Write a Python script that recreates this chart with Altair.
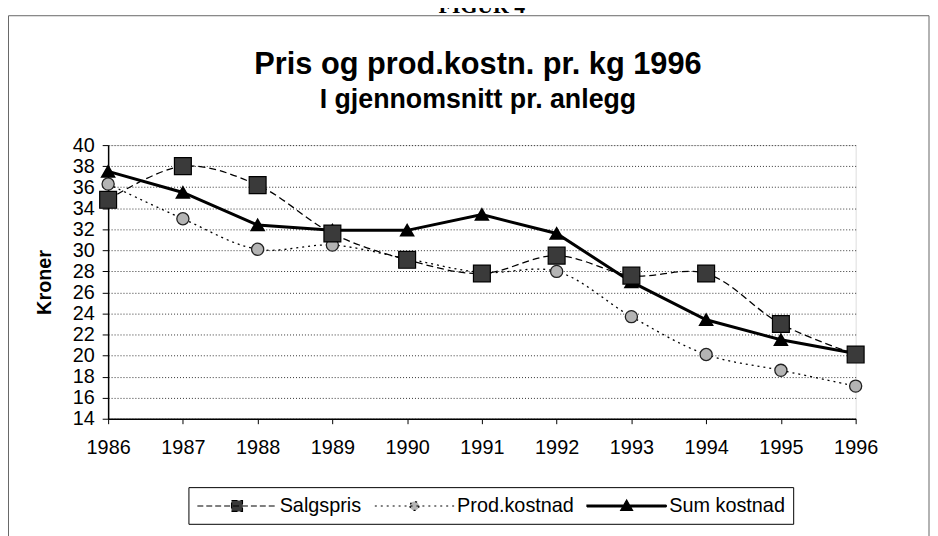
import altair as alt
import pandas as pd

years = list(range(1986, 1997))
salgspris = [34.8, 38.0, 36.2, 31.6, 29.1, 27.8, 29.5, 27.6, 27.8, 23.0, 20.1]
prodkostnad = [36.3, 33.0, 30.1, 30.5, 29.2, 27.9, 28.0, 23.7, 20.1, 18.6, 17.1]
sumkostnad = [37.5, 35.5, 32.4, 31.9, 31.9, 33.4, 31.6, 27.0, 23.4, 21.5, 20.2]
series_names = ["Salgspris", "Prod.kostnad", "Sum kostnad"]
y_ticks = list(range(14, 41, 2))

title_text = "Pris og prod.kostn. pr. kg 1996"
subtitle_text = "I gjennomsnitt pr. anlegg"
figure_label = "FIGUR 4"

rows = []
for name, vals in zip(series_names, [salgspris, prodkostnad, sumkostnad]):
    for yr, v in zip(years, vals):
        rows.append({"year": yr, "value": v, "series": name})
df = pd.DataFrame(rows)

FONT = "Liberation Sans"

X = alt.X("year:Q",
          scale=alt.Scale(domain=[1986, 1996], nice=False, zero=False),
          axis=alt.Axis(values=years, format="d", title=None, grid=False,
                        labelFontSize=20, labelFont=FONT, labelColor="black",
                        labelFlush=False, tickSize=5, labelPadding=14,
                        domainColor="black", domainWidth=1.5, tickColor="black"))
Y = alt.Y("value:Q",
          scale=alt.Scale(domain=[14, 40], nice=False, zero=False),
          axis=alt.Axis(values=y_ticks, title="Kroner", grid=True,
                        gridDash=[1, 2], gridColor="#333", gridWidth=1,
                        labelFontSize=20, labelFont=FONT, labelColor="black",
                        labelFlush=False, tickSize=6, labelPadding=8,
                        domainColor="black", domainWidth=1.5, tickColor="black",
                        titleFont=FONT, titleFontSize=20, titleFontWeight="bold",
                        titleColor="black", titlePadding=18))

base = alt.Chart(df)


def line_layer(name, width, interp, dash=None):
    kw = dict(color="black", strokeWidth=width, interpolate=interp)
    if dash is not None:
        kw["strokeDash"] = dash
    return base.transform_filter(alt.datum.series == name).mark_line(**kw).encode(x=X, y=Y)


l_prod = line_layer("Prod.kostnad", 1.3, "catmull-rom", [2, 4])
l_salg = line_layer("Salgspris", 1.3, "catmull-rom", [7, 4])
l_sum = line_layer("Sum kostnad", 3, "linear")

p_prod = base.transform_filter(alt.datum.series == "Prod.kostnad").mark_point(
    shape="circle", size=150, filled=True, fill="#b4b4b4", stroke="#222", strokeWidth=1.3, opacity=1
).encode(x=X, y=Y)
p_sum = base.transform_filter(alt.datum.series == "Sum kostnad").mark_point(
    shape="triangle-up", size=150, filled=True, fill="black", stroke="black", opacity=1
).encode(x=X, y=Y)
p_salg = base.transform_filter(alt.datum.series == "Salgspris").mark_point(
    shape="square", size=290, filled=True, fill="#3a3a3a", stroke="black", strokeWidth=1.2, opacity=1
).encode(x=X, y=Y)

# legend: line + marker symbols
legend_paths = [
    "M-4,0H4M-0.55,-0.55H0.55V0.55H-0.55Z",
    "M-4,0H4M-0.45,0A0.45,0.45 0 1,0 0.45,0A0.45,0.45 0 1,0 -0.45,0Z",
    "M-4,-0.1H4V0.1H-4ZM0,-0.6L0.6,0.45H-0.6Z",
]
legend_fills = ["#3a3a3a", "#b4b4b4", "black"]
legend_spec = alt.Legend(
    orient="none", legendX=81, legendY=345, direction="horizontal", title=None,
    labelFont=FONT, labelFontSize=20, labelColor="black",
    symbolSize=400, symbolOffset=30, labelOffset=32, columnPadding=10,
    padding=8, strokeColor="black", fillColor="white", symbolStrokeColor="black",
)
leg = base.transform_filter("false").mark_point(filled=True, opacity=1).encode(
    x=X, y=Y,
    shape=alt.Shape("series:N", scale=alt.Scale(domain=series_names, range=legend_paths), legend=legend_spec),
    fill=alt.Fill("series:N", scale=alt.Scale(domain=series_names, range=legend_fills), legend=legend_spec),
    stroke=alt.Stroke("series:N", scale=alt.Scale(domain=series_names, range=["black", "black", "black"]), legend=legend_spec),
    strokeDash=alt.StrokeDash("series:N", scale=alt.Scale(domain=series_names, range=[[6, 3], [2, 4], [1, 0]]), legend=legend_spec),
    strokeWidth=alt.StrokeWidth("series:N", scale=alt.Scale(domain=series_names, range=[1.2, 1.2, 1.5]), legend=legend_spec),
)

frame_df = pd.DataFrame({"k": [0]})
frame = alt.Chart(frame_df).mark_rect(fill="transparent", stroke="#666", strokeWidth=1).encode(
    x=alt.value(-100.5), x2=alt.value(828), y=alt.value(-130.5), y2=alt.value(420)
)
figur = alt.Chart(frame_df).mark_text(
    text=figure_label, font="Liberation Serif", fontWeight="bold", fontSize=22,
    baseline="alphabetic", align="center", color="black"
).encode(x=alt.value(377), y=alt.value(-133))
title_mark = alt.Chart(frame_df).mark_text(
    text=title_text, font=FONT, fontWeight="bold", fontSize=31,
    baseline="alphabetic", align="center", color="black"
).encode(x=alt.value(373), y=alt.value(-72))
subtitle_mark = alt.Chart(frame_df).mark_text(
    text=subtitle_text, font=FONT, fontWeight="bold", fontSize=27,
    baseline="alphabetic", align="center", color="black"
).encode(x=alt.value(373), y=alt.value(-37))

chart = alt.layer(
    frame, figur, title_mark, subtitle_mark, l_prod, l_salg, l_sum, p_prod, p_sum, p_salg, leg
).properties(
    width=754, height=276,
    autosize=alt.AutoSizeParams(type="none"),
    padding={"left": 101, "top": 136, "right": 75, "bottom": 116},
).configure_view(stroke="black", strokeWidth=1.5).configure(background="white")

chart.save("out.html", embed_options={"renderer": "svg", "actions": False})
